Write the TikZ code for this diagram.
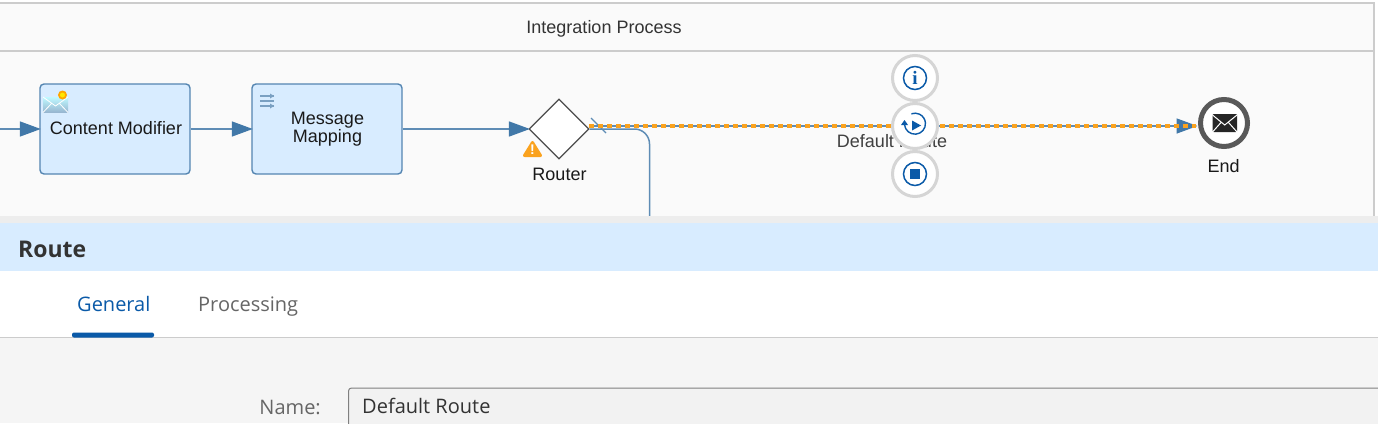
\documentclass[tikz,border=0pt]{standalone}
\usepackage{fontspec}
\setmainfont{Liberation Sans}
\newfontfamily\panelfont{Open Sans}
\usetikzlibrary{positioning,arrows.meta,shapes.geometric}
\definecolor{flowblue}{HTML}{4178A8}
\definecolor{stepfill}{HTML}{D8ECFF}
\definecolor{iconblue}{HTML}{0A5AA8}
\definecolor{simorange}{HTML}{FAA21E}
\definecolor{ringgray}{HTML}{D5D5D5}
\definecolor{framegray}{HTML}{CCCCCC}
\definecolor{canvasbg}{HTML}{FAFAFA}
\definecolor{panelbg}{HTML}{F5F5F5}
\newcommand{\pxfont}[1]{\fontsize{#1}{#1}\selectfont}
\begin{document}
\begin{tikzpicture}[x=1pt,y=-1pt,
    stepbox/.style={draw=flowblue!90,fill=stepfill,line width=1.4pt,rounded corners=4pt,
      minimum width=150pt,minimum height=90pt,inner sep=0pt,align=center,
      font=\pxfont{18},text=black!90},
    gateway/.style={diamond,draw=black!70,fill=white,line width=1.2pt,
      minimum width=60pt,minimum height=60pt,inner sep=0pt,aspect=1},
    ctrl/.style={circle,draw=ringgray,fill=white,line width=3pt,minimum size=45pt,inner sep=0pt},
    flow/.style={draw=flowblue!85,line width=1.5pt},
    tip/.style={-{Triangle[length=21pt,width=15pt,color=flowblue]},shorten >=-1.5pt},
    caption/.style={font=\pxfont{18},text=black!90,inner sep=0pt,anchor=base},
    panel/.style={font=\panelfont\pxfont{20},inner sep=0pt,anchor=base west}]
  \useasboundingbox (0,0) rectangle (1378,423);
  \fill[white] (0,0) rectangle (1378,423);
  \fill[canvasbg] (0,3) rectangle (1374,216);
  \draw[framegray,line width=2pt] (0,3) -- (1374,3) -- (1374,216);
  \draw[framegray,line width=1.5pt] (0,51) -- (1374,51);
  \node[caption,text=black!80] (title) at (604,33) {Integration Process};

  \node[stepbox] (modifier) at (115,129) {\hspace*{2pt}\raisebox{3pt}{Content Modifier}};
  \node[stepbox,right=60.6pt of modifier] (mapping) {\hspace*{1pt}Message\\\hspace*{1pt}Mapping};
  \node[gateway] (router) at (559,129) {};
  \node[caption] (routerlabel) at (559.5,180) {Router};
  \node[circle,draw=black!65,fill=white,line width=5pt,minimum size=47pt,inner sep=0pt] (end) at (1224,123) {};
  \node[caption] (endlabel) at (1223.5,172) {End};

  \coordinate (start) at (0,129);
  \coordinate (drop) at (649.5,216);
  \coordinate (routerout) at (589,126);
  \coordinate (endin) at (1196,126);

  \draw[flow,tip] (start) -- (modifier);
  \draw[flow,tip] (modifier) -- (mapping);
  \draw[flow,tip] (mapping) -- (router);
  \draw[flow,rounded corners=15pt] (router.east) -- (router.east -| drop) -- (drop);
  \draw[flow,line width=1.1pt] (591,118) -- (606,133);
  \draw[flow,tip] (routerout) -- (endin);
  \draw[simorange,line width=3.4pt,dash pattern=on 5pt off 4pt] (routerout) -- (endin);

  \node[caption,text=black!75] (routelabel) at (892,147) {Default Route};

  \node[ctrl] (info) at (915,78) {};
  \node[ctrl] (trace) at (915,126) {};
  \node[ctrl] (stop) at (915,174) {};

  \draw[iconblue,line width=1.5pt] (info.center) circle (11.5pt);
  \node[font=\fontspec{Liberation Serif}\bfseries\pxfont{19},text=iconblue,inner sep=0pt] at (info.center) {i};
  \draw[iconblue,line width=1.5pt] (stop.center) circle (11.5pt);
  \fill[iconblue] ([shift={(-5,-5)}]stop.center) rectangle ([shift={(5,5)}]stop.center);
  \draw[iconblue,line width=1.4pt] ([shift={(-10.5,-1.4)}]trace.center) arc[start angle=185,end angle=470,radius=10.5pt];
  \fill[iconblue] ([shift={(-3,-5.5)}]trace.center) -- ([shift={(6,-.5)}]trace.center) -- ([shift={(-3,4.5)}]trace.center) -- cycle;
  \fill[iconblue] ([shift={(-14,-1)}]trace.center) -- ([shift={(-7,-1)}]trace.center) -- ([shift={(-10.5,-6)}]trace.center) -- cycle;

  % icons inside the steps
  \shade[top color=blue!10!cyan!25,bottom color=flowblue!55] (43,97) rectangle (68,112.5);
  \draw[white,line width=.8pt] (43,97) -- (55.5,106) -- (68,97) (43,112.5) -- (52,103) (68,112.5) -- (59,103);
  \fill[orange!70!yellow] (62.5,95) circle (4.5pt);
  \fill[yellow!90!orange] (62.5,95) circle (2.5pt);
  \foreach \ypos in {96,101,106} {
    \draw[flowblue!70,line width=1.2pt] (260,\ypos) -- (274,\ypos);
  }
  \fill[flowblue!70] (270,93.5) -- (274,96) -- (270,98.5) -- cycle;
  \fill[flowblue!70] (270,103.5) -- (274,106) -- (270,108.5) -- cycle;

  % warning sign of the router
  \draw[simorange,fill=simorange,line width=3pt,line join=round] (532.5,142.5) -- (540.5,155.5) -- (524.5,155.5) -- cycle;
  \node[font=\bfseries\pxfont{14},text=white,inner sep=0pt] (warn) at (532.5,149.5) {!};

  % envelope of the end event
  \fill[black!85,rounded corners=1pt] (1212.5,114) rectangle (1237,132);
  \draw[white,line width=1pt] (1212.5,115) -- (1224.7,125) -- (1237,115) (1212.5,132) -- (1221,122.5) (1237,132) -- (1228.5,122.5);

  % lower panel
  \fill[black!7] (0,216) rectangle (1378,223);
  \fill[stepfill] (0,223) rectangle (1378,271);
  \fill[white] (0,271) rectangle (1378,337);
  \fill[panelbg] (0,337) rectangle (1378,423);
  \draw[black!20,line width=1pt] (0,337.5) -- (1378,337.5);
  \fill[iconblue,rounded corners=2pt] (72,337.5) -- (72,332.5) -- (154,332.5) -- (154,337.5) -- cycle;
  \node[panel,font=\panelfont\bfseries\pxfont{23},text=black!80] (route) at (18,257) {Route};
  \node[panel,text=iconblue] (general) at (77,311) {General};
  \node[panel,text=black!60] (processing) at (198,311) {Processing};
  \node[panel,anchor=base east,text=black!60] (namelabel) at (321,414) {Name:};
  \draw[black!50,fill=black!5,line width=1pt,rounded corners=3pt] (348.5,430) -- (348.5,388) -- (1385,388) -- (1385,430);
  \node[panel,text=black!80] (namevalue) at (362,413) {Default Route};
\end{tikzpicture}
\end{document}
